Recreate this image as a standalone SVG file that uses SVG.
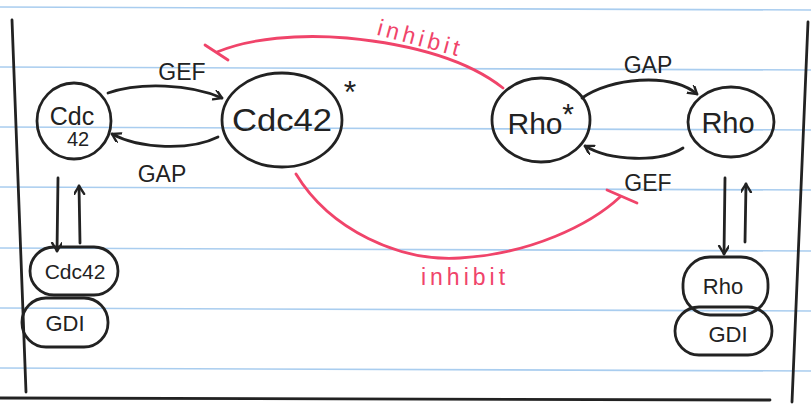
<svg xmlns="http://www.w3.org/2000/svg" width="811" height="404" viewBox="0 0 811 404">
<defs>
<marker id="arr" markerWidth="12" markerHeight="12" refX="9" refY="5" orient="auto" markerUnits="userSpaceOnUse">
<path d="M1,0 L9,5 L1,10" fill="none" stroke="#222" stroke-width="2.4" stroke-linecap="round" stroke-linejoin="round"/>
</marker>
<style>
.rule{stroke:#a9cdef;stroke-width:1.6;fill:none}
.ink{stroke:#222;stroke-width:2.8;fill:none;stroke-linecap:round;stroke-linejoin:round}
.red{stroke:#f0446a;stroke-width:2.8;fill:none;stroke-linecap:round}
.lbl{font-family:"Liberation Sans",Arial,sans-serif;fill:#222;text-anchor:middle}
.rlbl{font-family:"Liberation Sans",Arial,sans-serif;fill:#f0446a;text-anchor:middle}
</style>
</defs>
<rect width="811" height="404" fill="#fff"/>
<g id="paper">
<line class="rule" x1="0" y1="7" x2="811" y2="10"/>
<line class="rule" x1="0" y1="67" x2="811" y2="70"/>
<line class="rule" x1="0" y1="127" x2="811" y2="130"/>
<line class="rule" x1="0" y1="187" x2="811" y2="190"/>
<line class="rule" x1="0" y1="248" x2="811" y2="251"/>
<line class="rule" x1="0" y1="308" x2="811" y2="311"/>
<line class="rule" x1="0" y1="368" x2="811" y2="371"/>
<path class="ink" d="M12,20 L26,392"/>
<path class="ink" d="M808,22 L792,402"/>
<path class="ink" d="M0,398 L770,400"/>
</g>
<g id="connectors">
<path class="ink" d="M108,93 C140,82 190,84 222,98" marker-end="url(#arr)"/>
<path class="ink" d="M218,137 C190,151 140,149 112,134" marker-end="url(#arr)"/>
<path class="ink" d="M582,98 C610,78 670,72 697,94" marker-end="url(#arr)"/>
<path class="ink" d="M683,148 C660,163 610,161 585,146" marker-end="url(#arr)"/>
<path class="ink" d="M58,178 L57,251" marker-end="url(#arr)"/>
<path class="ink" d="M80,243 L79,186" marker-end="url(#arr)"/>
<path class="ink" d="M725,178 L724,254" marker-end="url(#arr)"/>
<path class="ink" d="M745,242 L746,184" marker-end="url(#arr)"/>
<text class="lbl" x="182" y="80" font-size="23">GEF</text>
<text class="lbl" x="162" y="182" font-size="23">GAP</text>
<text class="lbl" x="648" y="73" font-size="23">GAP</text>
<text class="lbl" x="648" y="191" font-size="23">GEF</text>
<path class="red" d="M503,88 C470,62 420,45 347,38 C300,34 250,38 217,52"/>
<path class="red" d="M205,45 L228,60"/>
<text class="rlbl" x="420" y="46" font-size="23" letter-spacing="4" transform="rotate(15 420 40)">inhibit</text>
<path class="red" d="M296,174 C330,230 400,262 460,258 C530,254 590,225 620,197"/>
<path class="red" d="M607,190 L637,203"/>
<text class="rlbl" x="465" y="285" font-size="23" letter-spacing="4">inhibit</text>
</g>
<g id="cdc42">
<ellipse class="ink" cx="74" cy="121" rx="37" ry="38"/>
<text class="lbl" x="72" y="125" font-size="25">Cdc</text>
<text class="lbl" x="78" y="146" font-size="20">42</text>
</g>
<g id="cdc42-active">
<ellipse class="ink" cx="282" cy="120" rx="60" ry="47"/>
<text class="lbl" x="282" y="131" font-size="31" textLength="100" lengthAdjust="spacingAndGlyphs">Cdc42</text>
<text class="lbl" x="350" y="103" font-size="32">*</text>
</g>
<g id="rho-active">
<ellipse class="ink" cx="541" cy="120" rx="49" ry="42"/>
<text class="lbl" x="535" y="134" font-size="30">Rho</text>
<text class="lbl" x="568" y="124" font-size="30">*</text>
</g>
<g id="rho">
<ellipse class="ink" cx="731" cy="122" rx="43" ry="35"/>
<text class="lbl" x="728" y="133" font-size="29">Rho</text>
</g>
<g id="cdc42-gdi">
<rect class="ink" x="22" y="298" width="86" height="49" rx="24"/>
<rect class="ink" x="30" y="247" width="88" height="48" rx="24" fill="#fff"/>
<text class="lbl" x="75" y="279" font-size="21">Cdc42</text>
<text class="lbl" x="65" y="331" font-size="22">GDI</text>
</g>
<g id="rho-gdi">
<rect class="ink" x="675" y="307" width="97" height="48" rx="24"/>
<rect class="ink" x="683" y="257" width="85" height="58" rx="27" fill="#fff"/>
<text class="lbl" x="723" y="294" font-size="22">Rho</text>
<text class="lbl" x="728" y="342" font-size="22">GDI</text>
</g>
</svg>
